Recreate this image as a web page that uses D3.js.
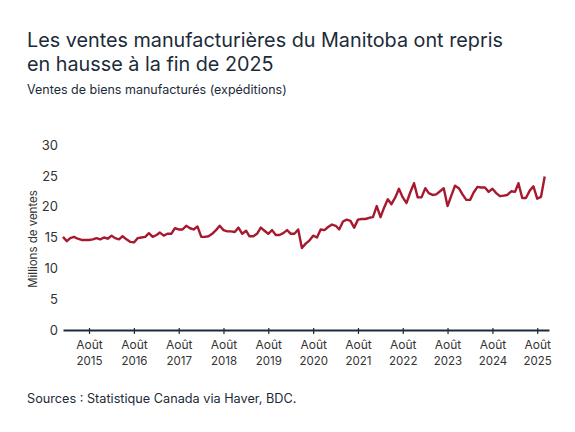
<!DOCTYPE html>
<html>
<head>
<meta charset="utf-8">
<script src="https://cdn.jsdelivr.net/npm/d3@7"></script>
<style>
  body { margin: 0; background: #fff; }
  svg text { font-family: Inter, "Noto Sans", sans-serif; }
</style>
</head>
<body>
<svg id="chart" width="575" height="432"></svg>
<script>
// Monthly sales, Jan 2015 -> Oct 2025 (millions)
const startYear = 2015;
const sales = [
  15.1, 14.4, 14.9, 15.1, 14.8, 14.6, 14.6, 14.6, 14.7, 14.9, 14.7, 15.0,
  14.8, 15.3, 14.9, 14.7, 15.2, 14.7, 14.3, 14.2, 14.9, 15.0, 15.1, 15.7,
  15.1, 15.4, 15.8, 15.3, 15.6, 15.6, 16.5, 16.3, 16.3, 16.9, 16.5, 16.3,
  16.8, 15.1, 15.1, 15.2, 15.6, 16.2, 16.9, 16.2, 16.0, 16.0, 15.9, 16.6,
  15.6, 16.1, 15.2, 15.2, 15.6, 16.6, 16.1, 15.6, 16.2, 15.4, 15.4, 15.7,
  16.2, 15.6, 15.6, 16.3, 13.3, 14.0, 14.5, 15.3, 15.0, 16.3, 16.2, 16.7,
  17.1, 16.9, 16.3, 17.6, 17.9, 17.7, 16.6, 17.9, 18.0, 18.0, 18.2, 18.3,
  20.1, 18.3, 19.8, 21.2, 20.4, 21.5, 22.9, 21.5, 20.6, 22.3, 23.8, 21.5,
  21.5, 23.0, 22.2, 21.9, 22.0, 22.5, 23.0, 20.1, 21.8, 23.4, 23.0, 22.0,
  21.1, 21.1, 22.3, 23.2, 23.1, 23.1, 22.4, 22.9, 22.2, 21.7, 21.8, 21.9,
  22.5, 22.4, 23.8, 21.4, 21.4, 22.6, 23.3, 21.3, 21.6, 24.9
];
const yTicks = [0, 5, 10, 15, 20, 25, 30];
const tickYears = [2015, 2016, 2017, 2018, 2019, 2020, 2021, 2022, 2023, 2024, 2025];

const svg = d3.select("#chart");
const navy = "#1c2b39";

const data = sales.map((v, i) => ({ date: new Date(startYear, i, 1), value: v }));

const x = d3.scaleTime()
  .domain([new Date(2015, 0, 1), new Date(2025, 10, 5)])
  .range([63, 549]);
const y = d3.scaleLinear().domain([0, 30]).range([330, 145]);

// titles
svg.append("text").attr("x", 27).attr("y", 47)
  .attr("font-size", 19.8).attr("fill", navy)
  .text("Les ventes manufacturières du Manitoba ont repris");
svg.append("text").attr("x", 27).attr("y", 71)
  .attr("font-size", 19.8).attr("fill", navy)
  .text("en hausse à la fin de 2025");
svg.append("text").attr("x", 27).attr("y", 94)
  .attr("font-size", 12.5).attr("fill", navy)
  .text("Ventes de biens manufacturés (expéditions)");

// y axis labels
svg.append("g")
  .selectAll("text").data(yTicks).join("text")
  .attr("x", 58).attr("y", d => y(d)).attr("dy", "0.36em")
  .attr("text-anchor", "end").attr("font-size", 13).attr("fill", "#333")
  .text(d => d);

svg.append("text")
  .attr("transform", "translate(37,239) rotate(-90)")
  .attr("text-anchor", "middle").attr("font-size", 11.5).attr("fill", "#333")
  .text("Millions de ventes");

// x axis
const xAxis = svg.append("g").attr("transform", "translate(0,330)")
  .call(d3.axisBottom(x)
    .tickValues(tickYears.map(yr => new Date(yr, 7, 1)))
    .tickSize(4).tickSizeOuter(0).tickFormat(""));
xAxis.select(".domain").attr("stroke", navy).attr("stroke-width", 2);
xAxis.selectAll(".tick line").attr("stroke", navy).attr("stroke-width", 1.2)
  .attr("y1", -2);
xAxis.selectAll(".tick").each(function(d) {
  const t = d3.select(this).append("text")
    .attr("text-anchor", "middle").attr("fill", "#333").attr("font-size", 12);
  t.append("tspan").attr("x", 0).attr("y", 19).text("Août");
  t.append("tspan").attr("x", 0).attr("y", 35).attr("font-size", 11.5).text(d.getFullYear());
});

// line
svg.append("path").datum(data)
  .attr("fill", "none").attr("stroke", "#a6192e").attr("stroke-width", 2.4)
  .attr("stroke-linejoin", "round")
  .attr("d", d3.line().x(d => x(d.date)).y(d => y(d.value)));

// source
svg.append("text").attr("x", 27).attr("y", 403)
  .attr("font-size", 12.7).attr("fill", navy)
  .text("Sources : Statistique Canada via Haver, BDC.");
</script>
</body>
</html>
